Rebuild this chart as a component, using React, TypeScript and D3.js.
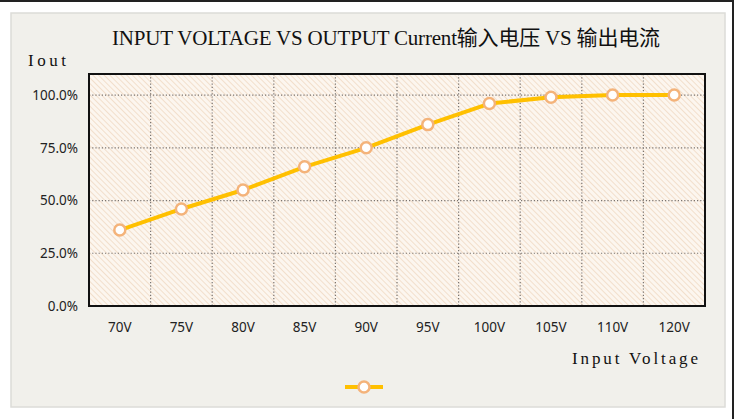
import React from "react";
import * as d3 from "d3";

const categories = ["70V", "75V", "80V", "85V", "90V", "95V", "100V", "105V", "110V", "120V"];
const values = [0.36, 0.46, 0.55, 0.66, 0.75, 0.86, 0.96, 0.99, 1.0, 1.0];
const yTicks = [0, 0.25, 0.5, 0.75, 1.0];
const title = "INPUT VOLTAGE VS OUTPUT Current输入电压 VS 输出电流";
const yTitle = "Iout";
const xTitle = "Input Voltage";

const W = 737;
const H = 419;
const plot = { left: 89, right: 705, top: 74, bottom: 306 };

export default function App() {
  const x = d3.scaleBand<string>().domain(categories).range([plot.left, plot.right]).padding(0);
  const y = d3.scaleLinear().domain([0, 1.1]).range([plot.bottom, plot.top]);
  const cx = (c: string) => (x(c) as number) + x.bandwidth() / 2;
  const line = d3
    .line<number>()
    .x((_, i) => cx(categories[i]))
    .y((d) => y(d));
  const fmt = d3.format(".1%");
  const serif = "'Liberation Serif', 'Noto Sans CJK SC', serif";
  const sans = "'Noto Sans', 'DejaVu Sans', sans-serif";
  const lineColor = "#FFC000";
  const markerStroke = "#F4B37A";

  return (
    <svg
      width={W}
      height={H}
      style={{ position: "absolute", left: 0, top: 0, background: "#fff" }}
    >
      <defs>
        <pattern id="hatch" width="4" height="4" patternUnits="userSpaceOnUse" patternTransform="rotate(-45)">
          <rect width="4" height="4" fill="#fcf6ef" />
          <line x1="0" y1="0" x2="0" y2="4" stroke="#f0d9c4" strokeWidth="1.6" />
        </pattern>
      </defs>
      {/* outer frame */}
      <rect x={-4} y={1} width={737} height={H + 10} fill="#fff" stroke="#222" strokeWidth={2} />
      {/* panel */}
      <rect x={11} y={13} width={714} height={394} fill="#f1f0eb" stroke="#dcdcd8" strokeWidth={1.5} />
      {/* plot area */}
      <rect
        x={plot.left}
        y={plot.top}
        width={plot.right - plot.left}
        height={plot.bottom - plot.top}
        fill="url(#hatch)"
      />
      {/* grid */}
      {yTicks
        .filter((t) => t > 0)
        .map((t) => (
          <line
            key={"h" + t}
            x1={plot.left}
            x2={plot.right}
            y1={y(t)}
            y2={y(t)}
            stroke="#7a7470"
            strokeWidth={1.2}
            strokeDasharray="1.2 2"
          />
        ))}
      {categories.slice(1).map((c) => (
        <line
          key={"v" + c}
          x1={x(c) as number}
          x2={x(c) as number}
          y1={plot.top}
          y2={plot.bottom}
          stroke="#7a7470"
          strokeWidth={1.2}
          strokeDasharray="1.2 2"
        />
      ))}
      <rect
        x={plot.left}
        y={plot.top}
        width={plot.right - plot.left}
        height={plot.bottom - plot.top}
        fill="none"
        stroke="#111"
        strokeWidth={2}
      />
      {/* y tick labels */}
      {yTicks.map((t) => (
        <text
          key={"yl" + t}
          x={78}
          y={y(t)}
          dy="0.35em"
          textAnchor="end"
          fontFamily={sans}
          fontSize={13.5}
          fill="#222"
        >
          {fmt(t)}
        </text>
      ))}
      {/* x tick labels */}
      {categories.map((c) => (
        <text
          key={"xl" + c}
          x={cx(c)}
          y={332}
          textAnchor="middle"
          fontFamily={sans}
          fontSize={13.5}
          fill="#222"
        >
          {c}
        </text>
      ))}
      {/* series */}
      <path d={line(values) || ""} fill="none" stroke={lineColor} strokeWidth={4} strokeLinejoin="round" />
      {values.map((v, i) => (
        <circle
          key={"m" + i}
          cx={cx(categories[i])}
          cy={y(v)}
          r={5.5}
          fill="#fff"
          stroke={markerStroke}
          strokeWidth={2.5}
        />
      ))}
      {/* titles */}
      <text
        x={112}
        y={45}
        fontFamily={serif}
        fontSize={21}
        fill="#111"
        textLength={548}
        lengthAdjust="spacing"
      >
        {title}
      </text>
      <text x={28} y={66} fontFamily={serif} fontSize={17} fill="#111" textLength={38} lengthAdjust="spacing">
        {yTitle}
      </text>
      <text
        x={572}
        y={364}
        fontFamily={serif}
        fontSize={17}
        fill="#111"
        textLength={126}
        lengthAdjust="spacing"
      >
        {xTitle}
      </text>
      {/* legend */}
      <line x1={345} x2={383} y1={387} y2={387} stroke={lineColor} strokeWidth={4} />
      <circle cx={364} cy={387} r={5.5} fill="#fff" stroke={markerStroke} strokeWidth={2.5} />
    </svg>
  );
}
